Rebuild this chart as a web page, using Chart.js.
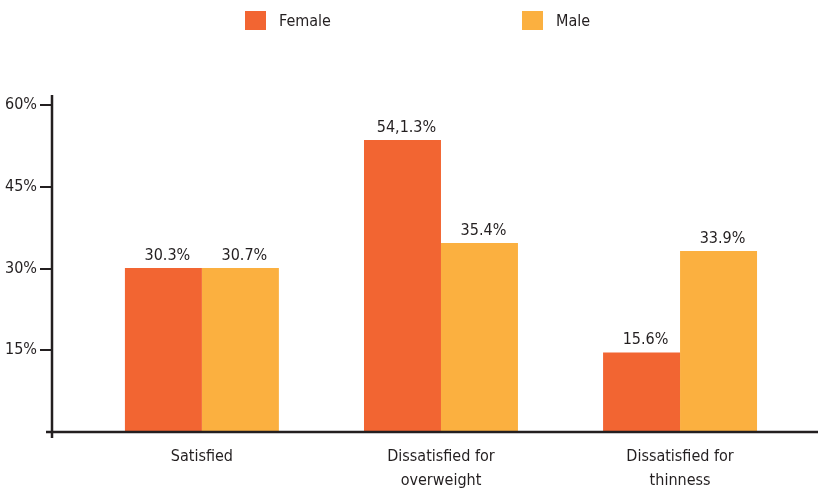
<!DOCTYPE html>
<html>
<head>
<meta charset="utf-8">
<script src="https://cdn.jsdelivr.net/npm/chart.js@4/dist/chart.umd.min.js"></script>
<style>
  body { margin: 0; background: #fff; }
  #wrap { position: relative; width: 818px; height: 491px; }
  #legend { position: absolute; top: 0; left: 0; width: 818px; height: 40px; }
  .item { position: absolute; top: 11px; height: 19px; display: flex; align-items: center;
    font: 16px 'Liberation Sans Narrow', 'DejaVu Sans Condensed', sans-serif; color: #231f20; }
  .box { width: 21px; height: 19px; margin-right: 13px; }
</style>
</head>
<body>
<div id="wrap">
  <canvas id="chart"></canvas>
  <div id="legend"></div>
</div>
<script>
"use strict";
///////////////////////////////
//Data
const categories = [["Satisfied"], ["Dissatisfied for", "overweight"], ["Dissatisfied for", "thinness"]];
const femaleValues = [30.1, 53.6, 14.6];
const maleValues = [30.1, 34.7, 33.2];
const femaleLabels = ["30.3%", "54,1.3%", "15.6%"];
const maleLabels = ["30.7%", "35.4%", "33.9%"];
const yTicks = [0, 15, 30, 45, 60];

const FONT = "'Liberation Sans Narrow', 'DejaVu Sans Condensed', sans-serif";
const FONT_SIZE = 16;
const INK = "#231f20";
const legendLeft = [245, 522];

//////////////////////////////
//Plugins

// axis lines that run a little past the chart area
const axisLines = {
  id: "axisLines",
  afterDraw(chart) {
    const { ctx, chartArea } = chart;
    ctx.save();
    ctx.strokeStyle = INK;
    ctx.lineWidth = 2.5;
    ctx.beginPath();
    ctx.moveTo(chartArea.left, chartArea.top - 10);
    ctx.lineTo(chartArea.left, chartArea.bottom + 6);
    ctx.moveTo(chartArea.left - 6, chartArea.bottom);
    ctx.lineTo(chart.width, chartArea.bottom);
    ctx.stroke();
    ctx.restore();
  },
};

// value labels above bars
const barLabels = {
  id: "barLabels",
  afterDatasetsDraw(chart) {
    const { ctx } = chart;
    const texts = [femaleLabels, maleLabels];
    ctx.save();
    ctx.font = FONT_SIZE + "px " + FONT;
    ctx.fillStyle = INK;
    ctx.textAlign = "center";
    ctx.textBaseline = "alphabetic";
    chart.data.datasets.forEach((ds, d) => {
      chart.getDatasetMeta(d).data.forEach((bar, i) => {
        ctx.fillText(texts[d][i], bar.x + 4, bar.y - 8);
      });
    });
    ctx.restore();
  },
};

//////////////////////////////
//Chart
const chart = new Chart(document.getElementById("chart"), {
  type: "bar",
  data: {
    datasets: [
      {
        label: "Female",
        data: femaleValues.map((v, i) => ({ x: i, y: v })),
        backgroundColor: "#f26532",
      },
      {
        label: "Male",
        data: maleValues.map((v, i) => ({ x: i, y: v })),
        backgroundColor: "#fbb040",
      },
    ],
  },
  options: {
    responsive: true,
    maintainAspectRatio: false,
    animation: false,
    layout: { padding: { top: 105, right: 0, left: 0, bottom: 0 } },
    datasets: { bar: { categoryPercentage: 0.644, barPercentage: 1 } },
    plugins: { legend: { display: false }, tooltip: { enabled: false } },
    scales: {
      x: {
        type: "linear",
        offset: false,
        min: -0.627,
        max: 2.577,
        grid: { display: false, offset: false },
        border: { display: false },
        afterBuildTicks: (scale) => {
          scale.ticks = categories.map((c, i) => ({ value: i }));
        },
        afterFit: (scale) => {
          scale.height = 59;
        },
        ticks: {
          autoSkip: false,
          maxRotation: 0,
          padding: 4,
          color: INK,
          font: { family: FONT, size: FONT_SIZE, lineHeight: 1.55 },
          callback: (v) => categories[v],
        },
      },
      y: {
        min: 0,
        max: 60,
        afterBuildTicks: (scale) => {
          scale.ticks = yTicks.map((v) => ({ value: v }));
        },
        afterFit: (scale) => {
          scale.width = 52;
        },
        border: { display: false },
        grid: {
          drawOnChartArea: false,
          drawTicks: true,
          tickLength: 12,
          lineWidth: 2,
          color: (c) => (c.tick && c.tick.value === 0 ? "rgba(0,0,0,0)" : INK),
        },
        ticks: {
          padding: 3,
          color: INK,
          font: { family: FONT, size: FONT_SIZE },
          callback: (v) => (v === 0 ? "" : v + "%"),
        },
      },
    },
  },
  plugins: [axisLines, barLabels],
});

//////////////////////////////
//Legend built from the chart's datasets
const legend = document.getElementById("legend");
chart.data.datasets.forEach((ds, i) => {
  const item = document.createElement("div");
  item.className = "item";
  item.style.left = legendLeft[i] + "px";
  item.innerHTML = `<span class="box" style="background:${ds.backgroundColor}"></span>${ds.label}`;
  legend.appendChild(item);
});
</script>
</body>
</html>
